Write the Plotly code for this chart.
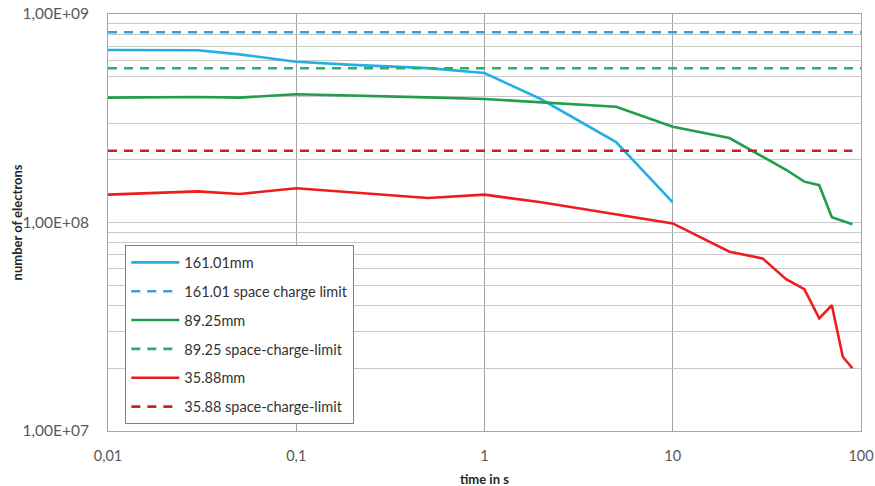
import plotly.graph_objects as go

# measured electron counts over time for three positions
t_161 = [0.01, 0.03, 0.05, 0.1, 0.2, 0.5, 1, 2, 5, 10]
n_161 = [6.72e8, 6.70e8, 6.40e8, 5.90e8, 5.70e8, 5.50e8, 5.21e8, 3.90e8, 2.43e8, 1.25e8]

t_89 = [0.01, 0.03, 0.05, 0.1, 0.5, 1, 5, 10, 20, 30, 40, 50, 60, 70, 90]
n_89 = [3.97e8, 4.00e8, 3.97e8, 4.12e8, 3.98e8, 3.91e8, 3.59e8, 2.88e8, 2.54e8,
        2.06e8, 1.79e8, 1.57e8, 1.51e8, 1.06e8, 9.8e7]

t_35 = [0.01, 0.03, 0.05, 0.1, 0.5, 1, 2, 5, 10, 20, 30, 40, 50, 60, 70, 80, 90]
n_35 = [1.36e8, 1.41e8, 1.37e8, 1.46e8, 1.31e8, 1.36e8, 1.25e8, 1.09e8, 9.9e7,
        7.24e7, 6.73e7, 5.35e7, 4.79e7, 3.47e7, 4.01e7, 2.27e7, 2.0e7]

# space-charge limits
limit_161 = 8.17e8
limit_89 = 5.49e8
limit_35 = 2.21e8
limit_t_161 = [0.01, 100]
limit_t_89 = [0.01, 100]
limit_t_35 = [0.01, 90]

x_ticks = [0.01, 0.1, 1, 10, 100]
x_labels = ["0,01", "0,1", "1", "10", "100"]
y_decades = [1e7, 1e8, 1e9]
y_labels = ["1,00E+07", "1,00E+08", "1,00E+09"]

# gridlines at every 1..9 step within each decade, labelled only at decades
y_tickvals = []
y_ticktext = []
for d, lab in zip(y_decades, y_labels):
    y_tickvals.append(d)
    y_ticktext.append(lab)
    if d < 1e9:
        for m in range(2, 10):
            y_tickvals.append(m * d)
            y_ticktext.append("")

BLUE = "#23aee6"
BLUE_D = "#3a9fd6"
GREEN = "#1f9f48"
GREEN_D = "#2bb067"
RED = "#ee1c1c"
RED_D = "#cc1f2e"

fig = go.Figure()

def add(x, y, name, color, dash, grp):
    fig.add_trace(go.Scatter(
        x=x, y=y, mode="lines", name=name, legendgroup=grp,
        line=dict(color=color, width=2.6, dash=dash),
    ))

add(t_161, n_161, "161.01mm", BLUE, "solid", "a")
add(limit_t_161, [limit_161] * 2, "161.01 space charge limit", BLUE_D, "9px,7px", "b")
add(t_89, n_89, "89.25mm", GREEN, "solid", "c")
add(limit_t_89, [limit_89] * 2, "89.25 space-charge-limit", GREEN_D, "9px,7px", "d")
add(t_35, n_35, "35.88mm", RED, "solid", "e")
add(limit_t_35, [limit_35] * 2, "35.88 space-charge-limit", RED_D, "9px,7px", "f")

font = "Lato, 'Open Sans', sans-serif"

fig.update_layout(
    width=875, height=486,
    margin=dict(l=108, r=14, t=14, b=55, autoexpand=False),
    paper_bgcolor="white", plot_bgcolor="white",
    font=dict(family=font, size=12, color="#404040"),
    showlegend=True,
    legend=dict(
        x=0.023, y=0.445, xanchor="left", yanchor="top",
        bgcolor="white", bordercolor="#808080", borderwidth=1,
        font=dict(family=font, size=14.5, color="#333333"),
        traceorder="grouped", tracegroupgap=7, itemwidth=48,
    ),
    xaxis=dict(
        type="log", range=[-2, 2], automargin=False,
        tickvals=x_ticks, ticktext=x_labels,
        showgrid=True, gridcolor="#a6a6a6", gridwidth=1,
        showline=True, linecolor="#a6a6a6", linewidth=1, mirror=True,
        ticks="", tickfont=dict(size=14.5, color="#595959"),
        ticklabelstandoff=12,
        zeroline=False,
    ),
    yaxis=dict(
        type="log", range=[7, 9], automargin=False,
        tickvals=y_tickvals, ticktext=y_ticktext,
        showgrid=True, gridcolor="#c8c8c8", gridwidth=1,
        showline=True, linecolor="#a6a6a6", linewidth=1, mirror=True,
        ticks="", tickfont=dict(size=15.5, color="#595959"),
        ticklabelstandoff=15,
        zeroline=False,
    ),
    annotations=[
        dict(text="<b>time in s</b>", xref="paper", yref="paper",
             x=0.5, y=-0.115, xanchor="center", yanchor="middle", showarrow=False,
             font=dict(family=font, size=13, color="#262626")),
        dict(text="<b>number of electrons</b>", xref="paper", yref="paper",
             x=-0.121, y=0.5, xanchor="center", yanchor="middle", showarrow=False,
             textangle=-90, font=dict(family=font, size=13, color="#262626")),
    ],
)

fig.write_html("out.html")
